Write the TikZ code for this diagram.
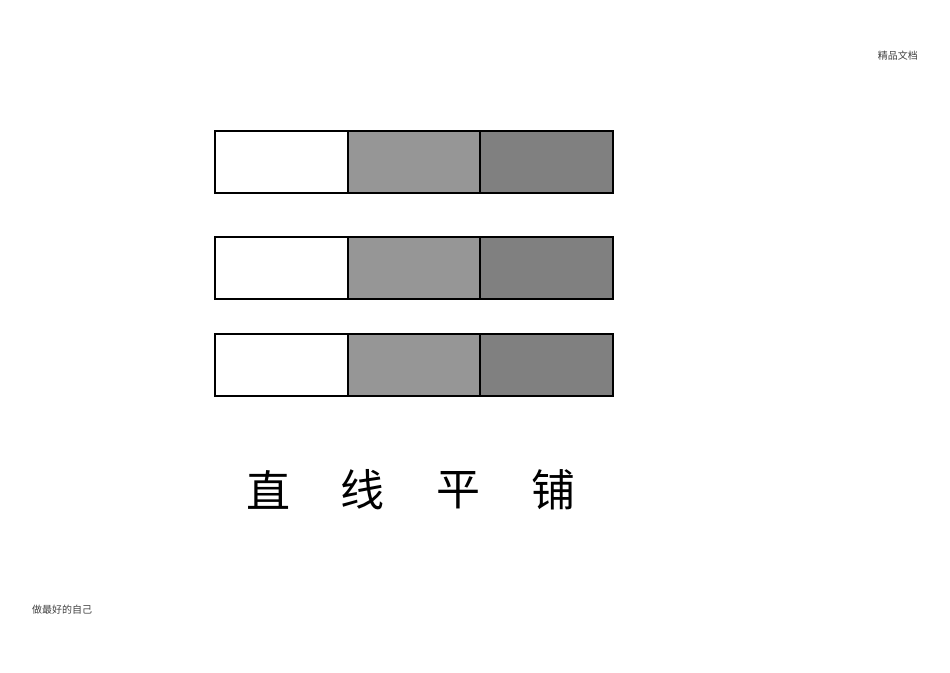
\documentclass[tikz,border=0pt]{standalone}
\usepackage{fontspec}
\newfontfamily\cjk{Noto Sans CJK SC}
\definecolor{midgray}{RGB}{150,150,150}
\definecolor{darkgray}{RGB}{128,128,128}
\tikzset{
  cell/.style={draw,line width=1.4pt,outer sep=0pt,minimum width=132.7pt,minimum height=62pt,inner sep=0pt,anchor=north west},
  tag/.style={font=\cjk\fontsize{10}{10}\selectfont,text=black!75,inner sep=0pt}
}
\begin{document}
\begin{tikzpicture}[x=1pt,y=-1pt]
\useasboundingbox (0,0) rectangle (950,672);
\node[tag,anchor=east] (head) at (918,56) {精品文档};
\node[tag,anchor=west] (foot) at (32,610) {做最好的自己};
\foreach \r/\y in {1/131,2/237,3/334}{
\node[cell,fill=white] (a\r) at (215,\y) {};
\node[cell,fill=midgray] (b\r) at (a\r.north east) {};
\node[cell,fill=darkgray] (c\r) at (b\r.north east) {};
\draw[line width=2pt] (a\r.north east) -- (a\r.south east)
  (b\r.north east) -- (b\r.south east);
\draw[line width=2.6pt] (a\r.north west) rectangle (c\r.south east);
}
\foreach \t/\x in {直/268,线/362,平/458,铺/553}
\node[font=\cjk\fontsize{44}{44}\selectfont,inner sep=0pt] (w\x) at (\x,490) {\t};
\end{tikzpicture}
\end{document}
